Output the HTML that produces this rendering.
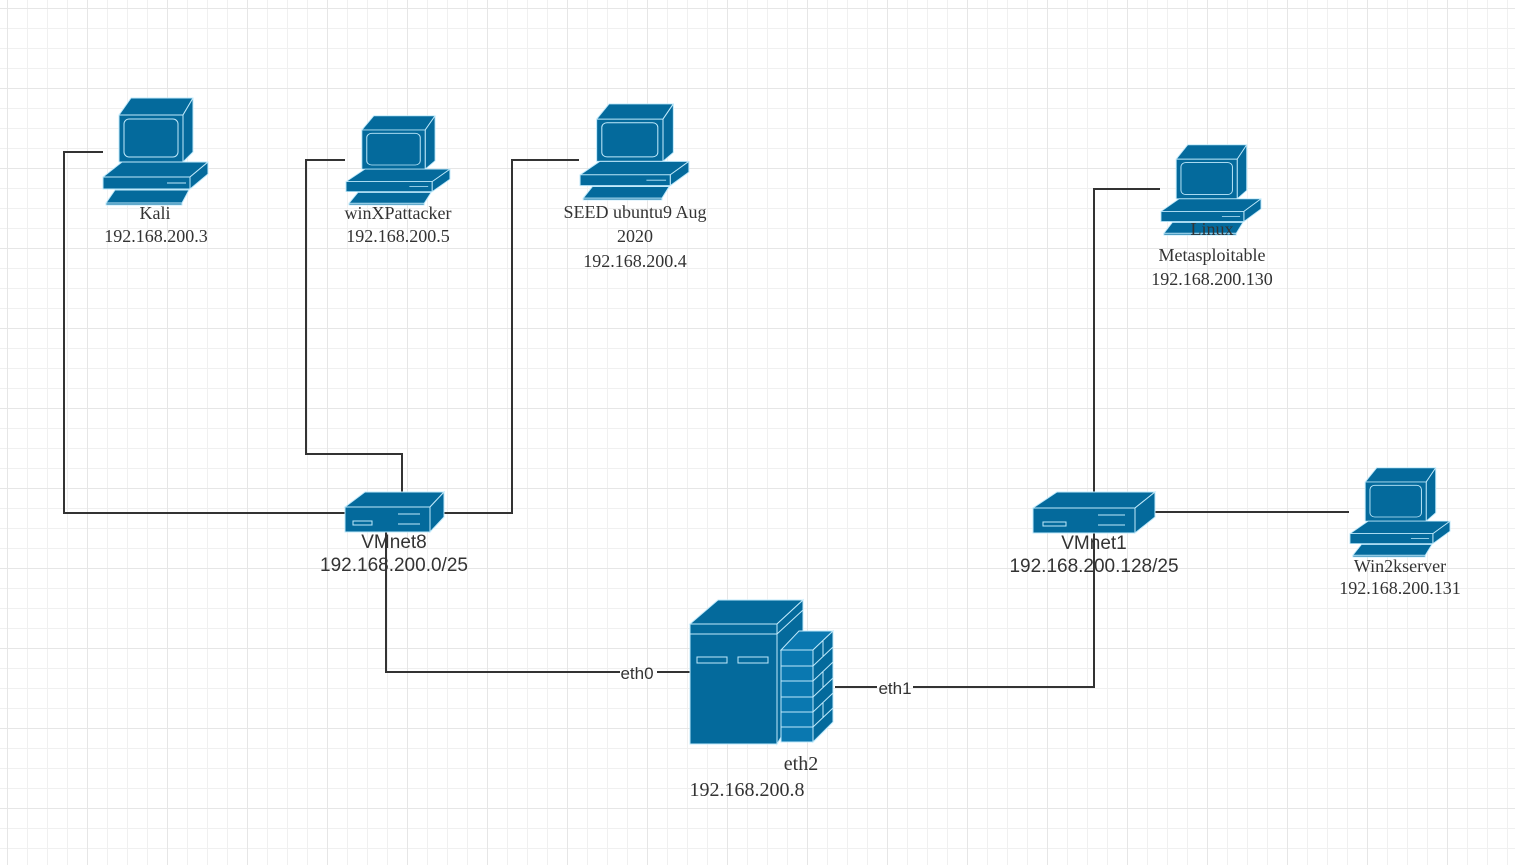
<!DOCTYPE html>
<html><head><meta charset="utf-8"><style>
html,body{margin:0;padding:0;background:#fff;}
body{width:1515px;height:865px;overflow:hidden;position:relative;
background-color:#fff;
background-image:
linear-gradient(to right,#e6e6e6 1px,transparent 1px),
linear-gradient(to bottom,#e6e6e6 1px,transparent 1px),
linear-gradient(to right,#f0f0f0 1px,transparent 1px),
linear-gradient(to bottom,#f0f0f0 1px,transparent 1px);
background-size:80px 80px,80px 80px,20px 20px,20px 20px;
background-position:7px 8px,7px 8px,7px 8px,7px 8px;}
svg{position:absolute;left:0;top:0;}
text{font-family:"Liberation Serif",serif;font-size:18px;fill:#333;text-anchor:middle;}
.s{font-family:"Liberation Sans",sans-serif;font-size:19px;}
</style></head><body>
<svg width="1515" height="865" viewBox="0 0 1515 865">
<defs>
<g id="pc" stroke="#bfe9fb" stroke-width="1" fill="#046a9c" stroke-linejoin="round">
<polygon points="17,18 29,1 91,1 81,18"/>
<polygon points="81,18 91,1 91,55 81,65"/>
<rect x="17" y="18" width="64" height="47"/>
<rect x="22" y="22" width="54" height="38" rx="5" fill="none"/>
<polygon points="1,80 20,65 106,65 88,80"/>
<polygon points="88,80 106,65 106,77 88,92"/>
<rect x="1" y="80" width="87" height="12"/>
<line x1="65" y1="86" x2="84" y2="86"/>
<polygon points="4,106 13,93 87,93 80,106"/>
<polygon points="4,106 80,106 80,108 4,108"/>
</g>
</defs>
<g stroke="#333" stroke-width="2" fill="none">
<polyline points="103,152 64,152 64,513 345,513"/>
<polyline points="345,160 306,160 306,454 402,454 402,493"/>
<polyline points="579,160 512,160 512,513 444,513"/>
<polyline points="386,532 386,672 620,672"/>
<polyline points="657,672 690,672"/>
<polyline points="835,687 877,687"/>
<polyline points="913,687 1094,687 1094,533"/>
<polyline points="1094,492 1094,189 1160,189"/>
<polyline points="1155,512 1349,512"/>
</g>
<use href="#pc" transform="translate(102,97)"/>
<use href="#pc" transform="translate(345,115) scale(0.99,0.833)"/>
<use href="#pc" transform="translate(579,103) scale(1.037,0.898)"/>
<use href="#pc" transform="translate(1160,144) scale(0.953,0.843)"/>
<use href="#pc" transform="translate(1349,467) scale(0.953,0.833)"/>
<g stroke="#bfe9fb" stroke-width="1" fill="#046a9c">
<polygon points="345,507 365,492 444,492 430,507"/>
<polygon points="430,507 444,492 444,517 430,532"/>
<rect x="345" y="507" width="85" height="25"/>
<rect x="353" y="521" width="19" height="4" fill="none"/>
<line x1="398" y1="514" x2="420" y2="514"/><line x1="398" y1="524" x2="420" y2="524"/>
<polygon points="1033,508 1057,492 1155,492 1135,508"/>
<polygon points="1135,508 1155,492 1155,517 1135,533"/>
<rect x="1033" y="508" width="102" height="25"/>
<rect x="1043" y="522" width="23" height="4" fill="none"/>
<line x1="1098" y1="515" x2="1125" y2="515"/><line x1="1098" y1="525" x2="1125" y2="525"/>
</g>
<g stroke="#bfe9fb" stroke-width="1" fill="#046a9c">
<polygon points="690,624 718,600 803,600 777,624"/>
<polygon points="777,624 803,600 803,700 777,744"/>
<line x1="777" y1="634" x2="803" y2="610"/>
<rect x="690" y="624" width="87" height="120"/>
<line x1="690" y1="634" x2="777" y2="634"/>
<rect x="697" y="657" width="30" height="6" fill="none"/>
<rect x="738" y="657" width="30" height="6" fill="none"/>
<polygon points="781,650 799,631 833,631 813,650" fill="#0a78b0"/>
<polygon points="813,650 833,631 833,722 813,742"/>
<rect x="781" y="650" width="32" height="92" fill="#0a78b0"/>
<line x1="781" y1="666" x2="813" y2="666"/><line x1="781" y1="681" x2="813" y2="681"/>
<line x1="781" y1="697" x2="813" y2="697"/><line x1="781" y1="712" x2="813" y2="712"/>
<line x1="781" y1="727" x2="813" y2="727"/>
<line x1="813" y1="666" x2="833" y2="647"/><line x1="813" y1="681" x2="833" y2="662"/>
<line x1="813" y1="697" x2="833" y2="678"/><line x1="813" y1="712" x2="833" y2="693"/>
<line x1="813" y1="727" x2="833" y2="708"/>
<line x1="823" y1="641" x2="823" y2="656"/><line x1="823" y1="672" x2="823" y2="687"/>
<line x1="823" y1="703" x2="823" y2="718"/>
</g>
<text x="155" y="219">Kali</text>
<text x="156" y="242">192.168.200.3</text>
<text x="398" y="219">winXPattacker</text>
<text x="398" y="242">192.168.200.5</text>
<text x="635" y="218">SEED ubuntu9 Aug</text>
<text x="635" y="242">2020</text>
<text x="635" y="267">192.168.200.4</text>
<text x="1212" y="235">Linux</text>
<text x="1212" y="261">Metasploitable</text>
<text x="1212" y="285">192.168.200.130</text>
<text x="1400" y="572">Win2kserver</text>
<text x="1400" y="594">192.168.200.131</text>
<text class="s" x="394" y="548">VMnet8</text>
<text class="s" x="394" y="571">192.168.200.0/25</text>
<text class="s" x="1094" y="549">VMnet1</text>
<text class="s" x="1094" y="572">192.168.200.128/25</text>
<text class="s" x="637" y="679" style="font-size:17px">eth0</text>
<text class="s" x="895" y="694" style="font-size:17px">eth1</text>
<text x="801" y="770" style="font-size:20px">eth2</text>
<text x="747" y="796" style="font-size:20px">192.168.200.8</text>
</svg>
</body></html>
